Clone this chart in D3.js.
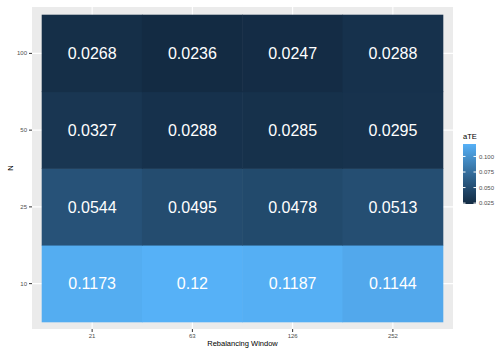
<!DOCTYPE html>
<html>
<head>
<meta charset="utf-8">
<script src="https://cdn.jsdelivr.net/npm/d3@7"></script>
<style>
  body { margin: 0; background: #fff; }
  svg { font-family: "Liberation Sans", Arial, sans-serif; }
</style>
</head>
<body>
<script>
// rebalancing windows (x) and N (y)
var windows = ["21", "63", "126", "252"];
var nValues = ["10", "25", "50", "100"];
// aTE, one row per N, columns follow windows
var ate10 = [0.1173, 0.12, 0.1187, 0.1144];
var ate25 = [0.0544, 0.0495, 0.0478, 0.0513];
var ate50 = [0.0327, 0.0288, 0.0285, 0.0295];
var ate100 = [0.0268, 0.0236, 0.0247, 0.0288];
var legendTicks = [0.025, 0.05, 0.075, 0.1];

var rows = [ate10, ate25, ate50, ate100];
var cells = [];
rows.forEach((r, i) => {
    r.forEach((v, j) => cells.push({ w: windows[j], n: nValues[i], v: v }));
});

var width = 496, height = 348;
var panel = { left: 32, right: 453, top: 7, bottom: 329 };

var svg = d3.select("body").append("svg")
    .attr("width", width)
    .attr("height", height);

// band scales with ggplot style expansion
var x = d3.scaleBand().domain(windows)
    .range([panel.left + 10, panel.right - 10]).padding(0);
var y = d3.scaleBand().domain(nValues)
    .range([panel.bottom - 7, panel.top + 8]).padding(0);

var ext = d3.extent(cells, d => d.v);
var color = d3.scaleSequential(d3.interpolateLab("#132B43", "#56B1F7")).domain(ext);

// panel background
svg.append("rect")
    .attr("x", panel.left).attr("y", panel.top)
    .attr("width", panel.right - panel.left)
    .attr("height", panel.bottom - panel.top)
    .attr("fill", "#EBEBEB");

// major grid
svg.append("g").selectAll("line").data(windows).enter().append("line")
    .attr("x1", d => x(d) + x.bandwidth() / 2).attr("x2", d => x(d) + x.bandwidth() / 2)
    .attr("y1", panel.top).attr("y2", panel.bottom)
    .attr("stroke", "#fff").attr("stroke-width", 1.1);
svg.append("g").selectAll("line").data(nValues).enter().append("line")
    .attr("y1", d => y(d) + y.bandwidth() / 2).attr("y2", d => y(d) + y.bandwidth() / 2)
    .attr("x1", panel.left).attr("x2", panel.right)
    .attr("stroke", "#fff").attr("stroke-width", 1.1);

// tiles (slightly oversized so no seams show)
svg.append("g").selectAll("rect").data(cells).enter().append("rect")
    .attr("x", d => x(d.w) - 0.3)
    .attr("y", d => y(d.n) - 0.3)
    .attr("width", x.bandwidth() + 0.6)
    .attr("height", y.bandwidth() + 0.6)
    .attr("fill", d => color(d.v));

// labels on tiles
svg.append("g").selectAll("text").data(cells).enter().append("text")
    .attr("x", d => x(d.w) + x.bandwidth() / 2)
    .attr("y", d => y(d.n) + y.bandwidth() / 2)
    .attr("dy", "0.36em")
    .attr("text-anchor", "middle")
    .attr("fill", "#fff")
    .attr("font-size", "16px")
    .text(d => String(d.v));

// axes
var xAxis = svg.append("g")
    .attr("transform", `translate(0,${panel.bottom})`)
    .call(d3.axisBottom(x).tickSize(3).tickPadding(2));
var yAxis = svg.append("g")
    .attr("transform", `translate(${panel.left},0)`)
    .call(d3.axisLeft(y).tickSize(3).tickPadding(2));
[xAxis, yAxis].forEach(a => {
    a.select(".domain").remove();
    a.selectAll("line").attr("stroke", "#333").attr("stroke-width", 1);
    a.selectAll("text").attr("fill", "#4D4D4D").attr("font-size", "6px");
});

// axis titles
svg.append("text")
    .attr("x", (panel.left + panel.right) / 2).attr("y", 346)
    .attr("text-anchor", "middle").attr("font-size", "7.5px").attr("fill", "#000")
    .text("Rebalancing Window");
svg.append("text")
    .attr("transform", `translate(13,${(panel.top + panel.bottom) / 2}) rotate(-90)`)
    .attr("text-anchor", "middle").attr("font-size", "7.5px").attr("fill", "#000")
    .text("N");

// legend colour bar
var bar = { x: 463, y: 144, w: 13, h: 60 };
var ly = d3.scaleLinear().domain(ext).range([bar.y + bar.h, bar.y]);
var defs = svg.append("defs");
var grad = defs.append("linearGradient").attr("id", "grad")
    .attr("x1", 0).attr("y1", 1).attr("x2", 0).attr("y2", 0);
d3.range(0, 1.001, 0.1).forEach(t => {
    grad.append("stop").attr("offset", t)
        .attr("stop-color", color(ext[0] + t * (ext[1] - ext[0])));
});
var leg = svg.append("g");
leg.append("text").attr("x", bar.x).attr("y", bar.y - 5)
    .attr("font-size", "7.5px").attr("fill", "#000").text("aTE");
leg.append("rect").attr("x", bar.x).attr("y", bar.y)
    .attr("width", bar.w).attr("height", bar.h).attr("fill", "url(#grad)");
leg.selectAll("line.l").data(legendTicks).enter().append("line")
    .attr("x1", bar.x).attr("x2", bar.x + 2.5)
    .attr("y1", d => ly(d)).attr("y2", d => ly(d))
    .attr("stroke", "#fff").attr("stroke-width", 1);
leg.selectAll("line.r").data(legendTicks).enter().append("line")
    .attr("x1", bar.x + bar.w - 2.5).attr("x2", bar.x + bar.w)
    .attr("y1", d => ly(d)).attr("y2", d => ly(d))
    .attr("stroke", "#fff").attr("stroke-width", 1);
leg.selectAll("text.t").data(legendTicks).enter().append("text")
    .attr("x", bar.x + bar.w + 3)
    .attr("y", d => ly(d))
    .attr("dy", "0.35em")
    .attr("font-size", "6px").attr("fill", "#4D4D4D")
    .text(d => d3.format(".3f")(d));
</script>
</body>
</html>
